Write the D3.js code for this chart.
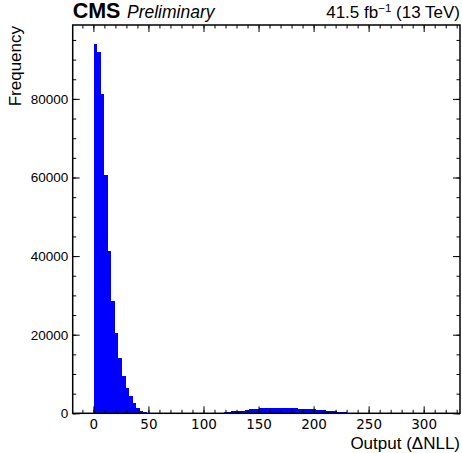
<!doctype html>
<html>
<head>
<meta charset="utf-8">
<script src="https://d3js.org/d3.v7.min.js"></script>
<style>
  body { margin: 0; background: #fff; }
  svg text { font-family: "Liberation Sans", Arial, sans-serif; fill: #000; }
</style>
</head>
<body>
<div id="chart"></div>
<script>
// histogram of Output (ΔNLL): 100 bins starting at binStart, width binWidth
var binStart = -2.8, binWidth = 3.2;
var counts = [
  2,
  94000, 92000, 81200, 60600, 41300, 28600, 20400, 14000, 9500, 6400, 4400, 2600, 1270, 590, 250, 100,
  40, 20, 10, 8, 5, 4, 3, 3, 4, 5, 8, 10, 15, 25, 40,
  60, 80, 100, 110, 140, 200, 330, 380, 560, 600,
  660, 700, 900, 1000, 1020, 1050, 1250, 1270, 1280, 1420,
  1430, 1280, 1270, 1260, 1270, 1250, 1240, 1200, 1180, 1030,
  1010, 1000, 770, 760, 740, 600, 590, 560, 440, 430,
  400, 200, 170, 150, 120, 100, 60, 30,
  15, 10, 8, 5, 4, 3, 2, 2, 1, 1, 1, 1, 0, 0, 1, 0, 0, 0, 0, 1
];
var xTicks = [0, 50, 100, 150, 200, 250, 300];
var yTicks = [0, 20000, 40000, 60000, 80000];
var xMinor = d3.range(-10, 331, 10);
var yMinor = d3.range(0, 98001, 5000);

var W = 462, H = 453;
var L = 72.7, R = 460, T = 25, B = 413.3;

var x = d3.scaleLinear().domain([-18.8, 333]).range([L, R]);
var y = d3.scaleLinear().domain([0, 98800]).range([B, T]);

var svg = d3.select("#chart").append("svg")
  .attr("width", W).attr("height", H);

var bins = counts.map(function(c, i) {
  return { x0: binStart + i * binWidth, x1: binStart + (i + 1) * binWidth, n: c };
});

svg.append("g").selectAll("rect")
  .data(bins.filter(function(d) { return d.n > 0; }))
  .enter().append("rect")
  .attr("x", function(d) { return x(d.x0); })
  .attr("width", function(d) { return x(d.x1) - x(d.x0); })
  .attr("y", function(d) { return y(d.n); })
  .attr("height", function(d) { return B - y(d.n); })
  .attr("fill", "#0000ff")
  .attr("shape-rendering", "crispEdges");

// ticks (inward, all four sides)
function tickAxis(axis, tx, ty, vals, size, fmt) {
  var g = svg.append("g").attr("transform", "translate(" + tx + "," + ty + ")")
    .call(axis.tickValues(vals).tickSize(-size).tickFormat(fmt || ""));
  g.select(".domain").remove();
  g.selectAll(".tick line").attr("stroke", "#000").attr("stroke-width", 1);
  return g;
}

var gx = tickAxis(d3.axisBottom(x), 0, B, xTicks, 7, d3.format("d"));
tickAxis(d3.axisBottom(x), 0, B, xMinor, 3.5);
tickAxis(d3.axisTop(x), 0, T, xTicks, 7);
tickAxis(d3.axisTop(x), 0, T, xMinor, 3.5);
var gy = tickAxis(d3.axisLeft(y), L, 0, yTicks, 7, d3.format("d"));
tickAxis(d3.axisLeft(y), L, 0, yMinor, 3.5);
tickAxis(d3.axisRight(y), R, 0, yTicks, 7);
tickAxis(d3.axisRight(y), R, 0, yMinor, 3.5);

gx.selectAll(".tick text")
  .attr("y", 15.5).attr("dy", null)
  .style("font-family", "'DejaVu Sans', sans-serif")
  .style("font-size", "13.5px");
gy.selectAll(".tick text")
  .attr("x", -4.5)
  .style("font-size", "13.5px");

// frame
svg.append("rect")
  .attr("x", L).attr("y", T).attr("width", R - L).attr("height", B - T)
  .attr("fill", "none").attr("stroke", "#000").attr("stroke-width", 1.5);

// axis titles
svg.append("text")
  .attr("text-anchor", "end")
  .attr("x", R).attr("y", 449)
  .style("font-size", "17px")
  .text("Output (ΔNLL)");

svg.append("text")
  .attr("text-anchor", "end")
  .attr("transform", "translate(21," + (T + 1) + ") rotate(-90)")
  .style("font-size", "17px")
  .text("Frequency");

// header
svg.append("text")
  .attr("x", L).attr("y", 18)
  .style("font-size", "21.5px").style("font-weight", "bold")
  .text("CMS");
svg.append("text")
  .attr("x", 127).attr("y", 18)
  .style("font-size", "17.5px").style("font-style", "italic")
  .text("Preliminary");

var lumi = svg.append("text")
  .attr("text-anchor", "end")
  .attr("x", R).attr("y", 18)
  .style("font-size", "17px");
lumi.append("tspan").text("41.5 fb");
lumi.append("tspan").attr("dy", -6).style("font-size", "11.5px").text("−1");
lumi.append("tspan").attr("dy", 6).text(" (13 TeV)");
</script>
</body>
</html>
